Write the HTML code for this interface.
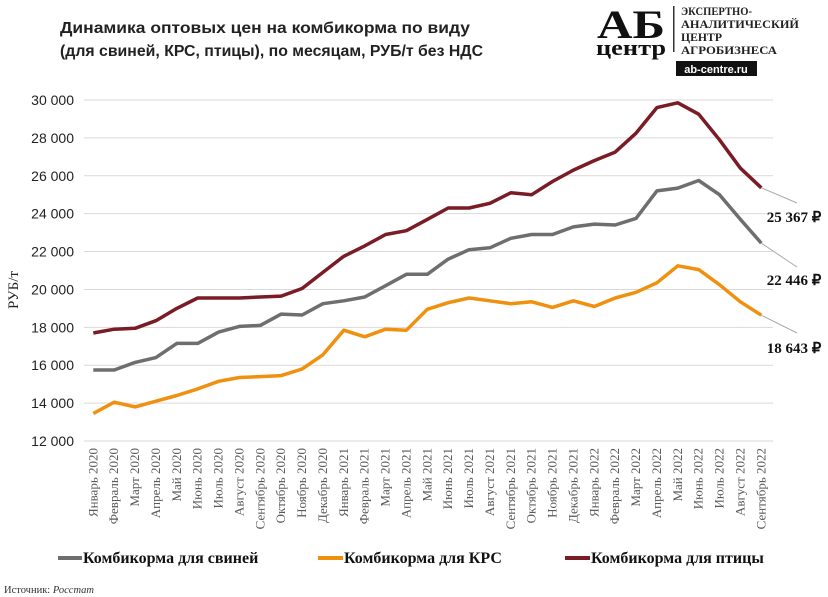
<!DOCTYPE html>
<html><head><meta charset="utf-8"><style>
body{margin:0;background:#fff;}
svg{display:block;}
</style></head><body>
<svg id="s" width="828" height="597" xmlns="http://www.w3.org/2000/svg" font-family="Liberation Sans, sans-serif">
<text x="60" y="33" font-size="16" font-weight="bold" fill="#222" textLength="410" lengthAdjust="spacingAndGlyphs">Динамика оптовых цен на комбикорма по виду</text>
<text x="60" y="56" font-size="16" font-weight="bold" fill="#222" textLength="423" lengthAdjust="spacingAndGlyphs">(для свиней, КРС, птицы), по месяцам, РУБ/т без НДС</text>
<g id="logo">
<text x="597" y="38" font-family="Liberation Serif, serif" font-size="40" font-weight="bold" fill="#111" textLength="68" lengthAdjust="spacingAndGlyphs">АБ</text>
<text x="596" y="55" font-family="Liberation Serif, serif" font-size="22" font-weight="bold" fill="#111" textLength="70" lengthAdjust="spacingAndGlyphs">центр</text>
<rect x="673" y="6" width="1.5" height="46" fill="#333"/>
<text font-family="Liberation Serif, serif" font-size="11.5" font-weight="bold" fill="#222">
<tspan x="681" y="15" textLength="71" lengthAdjust="spacingAndGlyphs">ЭКСПЕРТНО-</tspan>
<tspan x="681" y="28" textLength="118" lengthAdjust="spacingAndGlyphs">АНАЛИТИЧЕСКИЙ</tspan>
<tspan x="681" y="41" textLength="41" lengthAdjust="spacingAndGlyphs">ЦЕНТР</tspan>
<tspan x="681" y="54" textLength="96" lengthAdjust="spacingAndGlyphs">АГРОБИЗНЕСА</tspan>
</text>
<rect x="676" y="61" width="81" height="15" fill="#111"/>
<text x="716" y="73" font-size="11" font-weight="bold" fill="#fff" text-anchor="middle">ab-centre.ru</text>
</g>
<g id="grid"></g>
<g id="lines"></g>
<text transform="translate(18,290) rotate(-90)" font-family="Liberation Serif, serif" font-size="15" fill="#222" text-anchor="middle">РУБ/т</text>
<g font-family="Liberation Serif, serif" font-size="16" font-weight="bold" fill="#111">
<line x1="58" y1="558" x2="82" y2="558" stroke="#6e6e6e" stroke-width="4"/>
<text x="83" y="563">Комбикорма для свиней</text>
<line x1="318" y1="558" x2="343" y2="558" stroke="#f0900f" stroke-width="4"/>
<text x="344" y="563">Комбикорма для КРС</text>
<line x1="565" y1="558" x2="590" y2="558" stroke="#7a1c25" stroke-width="4"/>
<text x="591" y="563">Комбикорма для птицы</text>
</g>
<text x="4" y="593" font-family="Liberation Serif, serif" font-size="10.5" fill="#333">Источник: <tspan font-style="italic">Росстат</tspan></text>
<g font-family="Liberation Serif, serif" font-size="15" font-weight="bold" fill="#111">
<text x="794" y="222" text-anchor="middle">25 367 ₽</text>
<text x="794" y="285" text-anchor="middle">22 446 ₽</text>
<text x="794" y="353" text-anchor="middle">18 643 ₽</text>
</g>
</svg>
<script>
var NS="http://www.w3.org/2000/svg";
function el(p,t,a,txt){var e=document.createElementNS(NS,t);for(var k in a)e.setAttribute(k,a[k]);if(txt!=null)e.textContent=txt;document.getElementById(p).appendChild(e);return e;}
function Y(v){return 441-(v-12000)*0.018944;}
function X(i){return 93.3+i*20.875;}
for(var v=12000;v<=30000;v+=2000){var y=Y(v);
el("grid","line",{x1:84,x2:773,y1:y,y2:y,stroke:"#d9d9d9","stroke-width":1});
el("grid","text",{x:74,y:y+5,"font-size":14,fill:"#222","text-anchor":"end"},(v/1000)+" 000");}
var m=["Январь","Февраль","Март","Апрель","Май","Июнь","Июль","Август","Сентябрь","Октябрь","Ноябрь","Декабрь"];
for(var i=0;i<33;i++){var x=X(i)+4;var lab=m[i%12]+" "+(2020+Math.floor(i/12));
el("grid","text",{transform:"translate("+x+",448) rotate(-90)","font-family":"Liberation Serif, serif","font-size":13,fill:"#595959","text-anchor":"end"},lab);}
var pig=[15750,15750,16150,16400,17150,17150,17750,18050,18100,18700,18650,19250,19400,19600,20200,20800,20800,21600,22100,22200,22700,22900,22900,23300,23450,23400,23750,25200,25350,25750,25000,23700,22446];
var krs=[13450,14050,13800,14100,14400,14750,15150,15350,15400,15450,15800,16550,17850,17500,17900,17850,18950,19300,19550,19400,19250,19350,19050,19400,19100,19550,19850,20350,21250,21050,20250,19350,18643];
var pt=[17700,17900,17950,18350,19000,19550,19550,19550,19600,19650,20050,20900,21750,22300,22900,23100,23700,24300,24300,24550,25100,25000,25700,26300,26800,27250,28250,29600,29850,29250,27900,26400,25367];
function pl(d,c){var p=d.map(function(v,i){return X(i).toFixed(1)+","+Y(v).toFixed(1)}).join(" ");
el("lines","polyline",{points:p,fill:"none",stroke:c,"stroke-width":3.5,"stroke-linejoin":"round"});}
[[pt,"#7a1c25",203],[pig,"#6e6e6e",267],[krs,"#f0900f",333]].forEach(function(s){
var x=X(32),y=Y(s[0][32]);el("lines","line",{x1:x,y1:y,x2:797,y2:s[2],stroke:"#aaa","stroke-width":1});});
pl(pig,"#6e6e6e");pl(krs,"#f0900f");pl(pt,"#7a1c25");
</script>
</body></html>
